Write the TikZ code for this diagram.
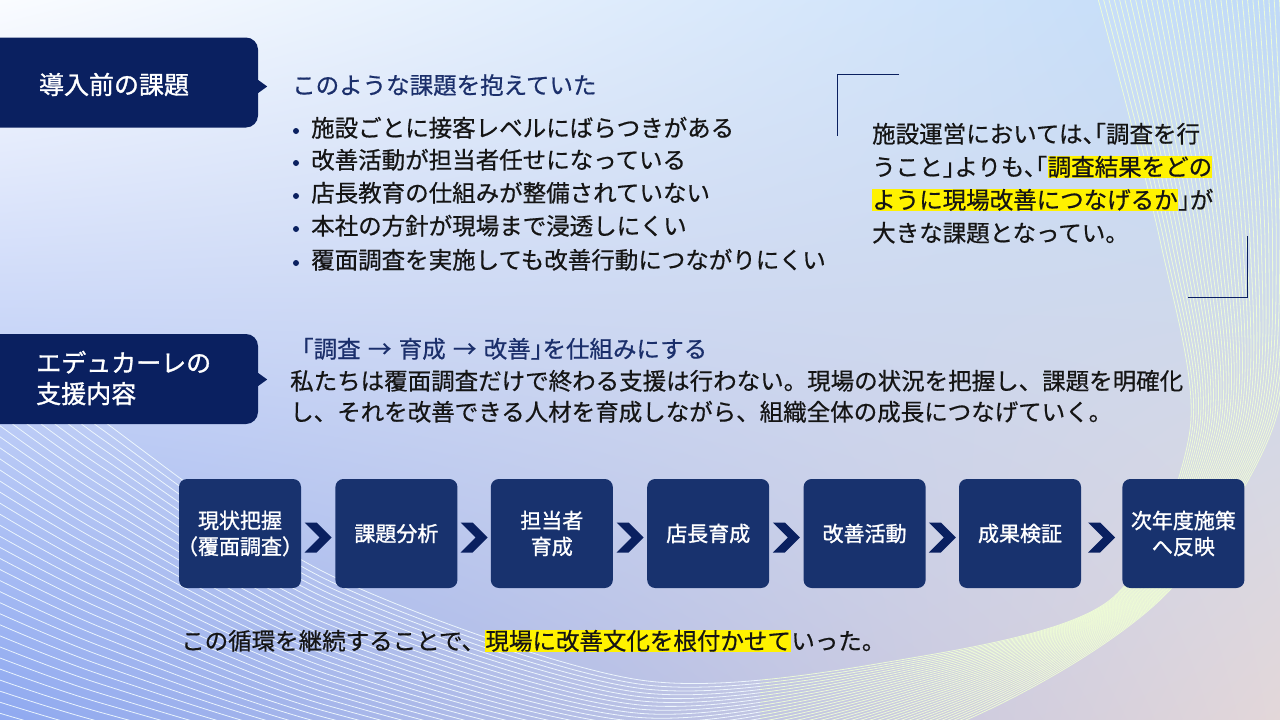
\documentclass[tikz,border=0pt]{standalone}
\usepackage{fontspec}
\setmainfont{Noto Sans CJK JP}[FakeBold=0.6]
\newfontfamily\halfwd{Noto Sans CJK JP}[RawFeature=+halt, FakeBold=0.6]
\newfontfamily\tagfont{Noto Sans CJK JP}[FakeBold=1.2]
\newfontfamily\boxfont{Noto Sans CJK JP}[RawFeature=+halt, FakeBold=1.2]
\usetikzlibrary{positioning,calc,shadings}
\definecolor{TZNavy}{HTML}{0A2060}
\definecolor{TZBox}{HTML}{18326E}
\definecolor{TZHead}{HTML}{1B2F6B}
\definecolor{TZInk}{HTML}{151515}
\definecolor{TZBgUL}{HTML}{FAFCFF}
\definecolor{TZBgUR}{HTML}{C0DAF8}
\definecolor{TZBgLL}{HTML}{8FA9F0}
\definecolor{TZBgLR}{HTML}{E3D7D9}
\definecolor{TZWaveL}{HTML}{F2FBFF}
\definecolor{TZWaveR}{HTML}{F0FFD6}
\tikzset{
    tagbox/.style = {fill=TZNavy, rounded corners=12pt,
        minimum width=278pt, minimum height=90pt, inner sep=0pt},
    tagtext/.style = {text=white, font=\tagfont\fontsize{25}{31}\selectfont,
        align=left, inner sep=0pt},
    txt/.style = {text=TZInk, font=\fontsize{23.5}{33}\selectfont,
        inner sep=0pt, anchor=base west},
    qtxt/.style = {txt, font=\halfwd\fontsize{23.5}{33}\selectfont},
    headtxt/.style = {txt, text=TZHead},
    hilite/.style = {fill=yellow, text height=19.5pt, text depth=2.5pt},
    dot/.style = {circle, fill=TZNavy, inner sep=0pt, minimum size=6pt},
    procbox/.style = {fill=TZBox, rounded corners=8pt, text=white,
        minimum width=122pt, minimum height=109pt, inner sep=0pt,
        align=center, font=\boxfont\fontsize{21}{26}\selectfont},
    chevron/.style = {fill=TZNavy},
    corner/.style = {draw=TZNavy, line width=1pt},
    wave/.style = {line width=0.8pt, opacity=0.9}
}
\def\wavefan{%
    \foreach \i in {0,...,36}{
        \pgfmathsetmacro{\t}{\i/36}
        \draw [wave] plot [smooth] coordinates {
            ({1097+193*\t},-5) ({1160+135*\t},240) ({1190+82*\t},430)
            ({1110+50*\t},600) ({900+66*\t},{660+60*\t}) (640,{680+150*\t})
            (330,{575+225*\t}) (102,{420+340*\t}) (-20,{320+410*\t})};
    }
}
\def\tosp{\hspace{2pt} → \hspace{2pt}}

\begin{document}
\begin{tikzpicture}[x=1pt, y=-1pt]
    \useasboundingbox (0,0) rectangle (1280,720);
    \shade [upper left=TZBgUL, upper right=TZBgUR, lower left=TZBgLL,
        lower right=TZBgLR] (0,0) rectangle (1280,720);
    % background waves
    \begin{scope}[wave/.append style={color=TZWaveL}]
        \clip (0,0) rectangle (760,720);
        \wavefan
    \end{scope}
    \begin{scope}[wave/.append style={color=TZWaveR}]
        \clip (760,0) rectangle (1280,720);
        \wavefan
    \end{scope}

    % before
    \node [tagbox] (tag1) at (119,82.5) {};
    \fill [TZNavy] (tag1.east) ++(0,-2.5) -- ++(9,6.5) -- ++(-9,6.5) -- cycle;
    \node [tagtext] (tag1txt) at (114,84.5) {導入前の課題};
    \node [headtxt] (head1) at (292,94) {このような課題を抱えていた};
    \foreach \y/\s [count=\n] in {128/施設ごとに接客レベルにばらつきがある,
        160/改善活動が担当者任せになっている,
        193/店長教育の仕組みが整備されていない,
        226/本社の方針が現場まで浸透しにくい,
        260/覆面調査を実施しても改善行動につながりにくい}{
        \node [dot] (dot\n) at (296,\y+3) {};
        \node [txt] (item\n) at (311,\y+8.7) {\s};
    }

    % quote
    \draw [corner] (899,74.5) -- (837.5,74.5) -- (837.5,136);
    \draw [corner] (1188,297.5) -- (1247.5,297.5) -- (1247.5,236);
    \node [qtxt] (quote1) at (872,142.7) {施設運営においては、「調査を行};
    \node [qtxt] (quote2a) at (872,175.7) {うこと」よりも、「};
    \node [qtxt, hilite] (quote2b) at (quote2a.base east) {調査結果をどの};
    \node [qtxt, hilite] (quote3a) at (872,208.7) {ように現場改善につなげるか};
    \node [qtxt] (quote3b) at (quote3a.base east) {」が};
    \node [qtxt] (quote4) at (872,241.7) {大きな課題となってい。};

    % support
    \node [tagbox] (tag2) at (119,379) {};
    \fill [TZNavy] (tag2.east) ++(0,-6) -- ++(9,6.5) -- ++(-9,6.5) -- cycle;
    \node [tagtext, anchor=west] (tag2txt) at (36,378) {エデュカーレの\\支援内容};
    \node [headtxt] (head2) at (290,357.7) {「調査\tosp 育成\tosp 改善{\halfwd 」}を仕組みにする};
    \node [txt] (para1) at (290,389.7) {私たちは覆面調査だけで終わる支援は行わない。現場の状況を把握し、課題を明確化};
    \node [txt] (para2) at (290,420.7) {し、それを改善できる人材を育成しながら、組織全体の成長につなげていく。};

    % cycle
    \node [procbox] (p1) at (240,533.5) {現状把握\\（覆面調査）};
    \node [procbox, right=34pt of p1] (p2) {課題分析};
    \node [procbox, right=33pt of p2] (p3) {担当者\\育成};
    \node [procbox, right=34pt of p3] (p4) {店長育成};
    \node [procbox, right=34pt of p4] (p5) {改善活動};
    \node [procbox, right=33pt of p5] (p6) {成果検証};
    \node [procbox, right=41pt of p6] (p7) {次年度施策\\へ反映};
    \foreach \a/\b in {p1/p2,p2/p3,p3/p4,p4/p5,p5/p6,p6/p7}{
        \fill [chevron] ($(\a.east)!0.5!(\b.west)+(-13.5,4)$) ++(0,-15)
            -- ++(12,0) -- ++(15,15) -- ++(-15,15) -- ++(-12,0) -- ++(15,-15) -- cycle;
    }

    \node [txt] (close1) at (181,649.7) {この循環を継続することで、};
    \node [txt, hilite] (close2) at (close1.base east) {現場に改善文化を根付かせて};
    \node [txt] (close3) at (close2.base east) {いった。};
\end{tikzpicture}
\end{document}
